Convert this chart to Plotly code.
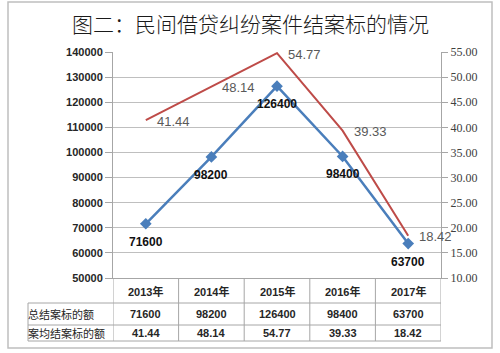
import plotly.graph_objects as go

categories = ["2013年", "2014年", "2015年", "2016年", "2017年"]
total_amount = [71600, 98200, 126400, 98400, 63700]
avg_amount = [41.44, 48.14, 54.77, 39.33, 18.42]
row_labels = ["总结案标的额", "案均结案标的额"]
avg_text = ["41.44", "48.14", "54.77", "39.33", "18.42"]
title_text = "图二：民间借贷纠纷案件结案标的情况"

W, H = 500, 353
L, R, T, B = 113, 441, 52, 278  # plot area in px

def px(x):
    return (x - L) / (R - L)

def py(y):
    return (B - y) / (B - T)

fig = go.Figure()
fig.add_trace(go.Scatter(
    x=list(range(5)), y=total_amount, mode="lines+markers",
    line=dict(color="#4A7EBB", width=2.5),
    marker=dict(symbol="diamond", size=9, color="#4A7EBB"),
    yaxis="y", cliponaxis=False, showlegend=False))
fig.add_trace(go.Scatter(
    x=list(range(5)), y=avg_amount, mode="lines",
    line=dict(color="#BE4B48", width=2),
    yaxis="y2", cliponaxis=False, showlegend=False))

fig.update_layout(
    width=W, height=H,
    margin=dict(l=L, r=W - R, t=T, b=H - B),
    paper_bgcolor="white", plot_bgcolor="white",
    showlegend=False,
    xaxis=dict(range=[-0.5, 4.5], showticklabels=False, showgrid=False,
               zeroline=False, showline=True, linecolor="#A6A6A6", linewidth=1,
               fixedrange=True),
    yaxis=dict(range=[50000, 140000], dtick=10000, tick0=50000, tickformat="d",
               showgrid=True, gridcolor="#BFBFBF", gridwidth=1,
               showline=True, linecolor="#A6A6A6", linewidth=1,
               ticks="outside", ticklen=7, tickcolor="#A6A6A6",
               tickfont=dict(family="Liberation Sans", size=11, color="#262626", weight="bold"),
               zeroline=False),
    yaxis2=dict(range=[10, 55], dtick=5, tick0=10, overlaying="y", side="right",
                showgrid=False, showline=True, linecolor="#A6A6A6", linewidth=1,
                ticks="outside", ticklen=6, tickcolor="#A6A6A6", tickformat=".2f",
                tickfont=dict(family="Liberation Serif", size=12, color="#404040"),
                zeroline=False),
)

shapes = []
# outer frame
shapes.append(dict(type="rect", xref="paper", yref="paper",
                   x0=px(8), x1=px(492), y0=py(348), y1=py(2),
                   line=dict(color="#BFBFBF", width=1.5)))
tcol = "#A6A6A6"
row_y = [278, 303, 325, 341]
for y in row_y[1:]:
    shapes.append(dict(type="line", xref="paper", yref="paper",
                       x0=px(28), x1=1, y0=py(y), y1=py(y), line=dict(color=tcol, width=1)))
shapes.append(dict(type="line", xref="paper", yref="paper",
                   x0=px(28), x1=px(28), y0=py(303), y1=py(341), line=dict(color=tcol, width=1)))
for i in range(6):
    shapes.append(dict(type="line", xref="x", yref="paper",
                       x0=i - 0.5, x1=i - 0.5, y0=py(278), y1=py(341), line=dict(color=tcol, width=1)))

annotations = []
annotations.append(dict(text=title_text, xref="paper", yref="paper", x=px(250), y=py(23),
                        showarrow=False, xanchor="center", yanchor="middle",
                        font=dict(family="Noto Sans CJK SC", size=21, color="#1a1a1a", weight=300)))
# data labels
for i, v in enumerate(total_amount):
    annotations.append(dict(text="<b>%d</b>" % v, xref="x", yref="y", x=i, y=v,
                            showarrow=False, xanchor="center", yanchor="middle", yshift=-18,
                            font=dict(family="Liberation Sans", size=12, color="#111111")))
for i, v in enumerate(avg_amount):
    annotations.append(dict(text=avg_text[i], xref="x", yref="y2", x=i, y=v,
                            showarrow=False, xanchor="left", yanchor="middle", xshift=9, yshift=-1,
                            font=dict(family="Liberation Sans", size=13, color="#595959")))
cy = [291, 314, 333]
for i, c in enumerate(categories):
    annotations.append(dict(text="<b>%s</b>" % c, xref="x", yref="paper", x=i, y=py(cy[0]),
                            showarrow=False, xanchor="center", yanchor="middle",
                            font=dict(family="Liberation Sans, Noto Sans CJK SC", size=11, color="#262626")))
    annotations.append(dict(text="<b>%d</b>" % total_amount[i], xref="x", yref="paper", x=i, y=py(cy[1]),
                            showarrow=False, xanchor="center", yanchor="middle",
                            font=dict(family="Liberation Sans", size=11, color="#262626")))
    annotations.append(dict(text="<b>%s</b>" % avg_text[i], xref="x", yref="paper", x=i, y=py(cy[2]),
                            showarrow=False, xanchor="center", yanchor="middle",
                            font=dict(family="Liberation Sans", size=11, color="#262626")))
for j, lab in enumerate(row_labels):
    annotations.append(dict(text=lab, xref="paper", yref="paper", x=px(28), y=py(cy[j + 1]),
                            showarrow=False, xanchor="left", yanchor="middle", xshift=-2,
                            font=dict(family="Noto Sans CJK SC", size=11, color="#262626")))

fig.update_layout(shapes=shapes, annotations=annotations)
fig.write_html("out.html")
